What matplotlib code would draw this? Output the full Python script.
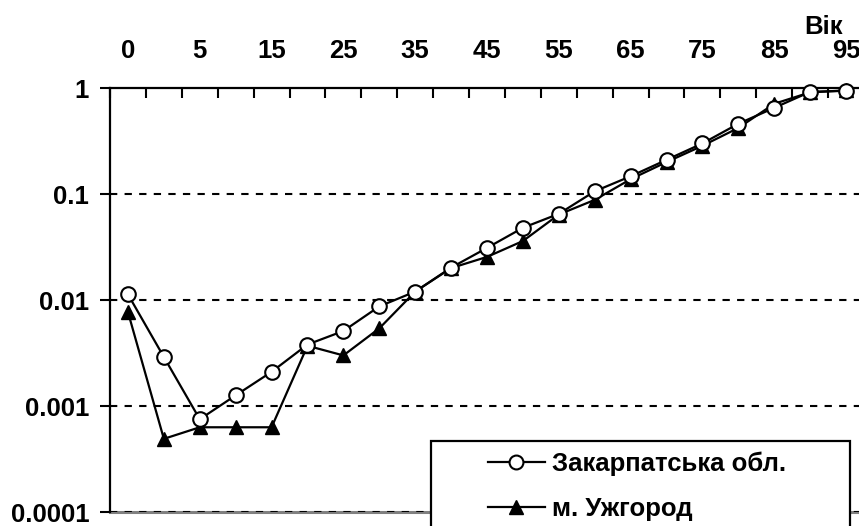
import matplotlib
matplotlib.use("Agg")
import matplotlib.pyplot as plt
from matplotlib.patches import Rectangle
from matplotlib.lines import Line2D
import numpy as np

plt.rcParams['font.family'] = ['Liberation Sans', 'DejaVu Sans']
plt.rcParams['font.weight'] = 'bold'

ages = ['0', '1', '5', '10', '15', '20', '25', '30', '35', '40', '45', '50',
        '55', '60', '65', '70', '75', '80', '85', '90', '95']
zakarpattia = [0.0113, 0.0029, 0.00075, 0.00126, 0.0021, 0.0038, 0.0051, 0.0087,
               0.012, 0.0202, 0.031, 0.048, 0.065, 0.106, 0.147, 0.21, 0.30,
               0.46, 0.65, 0.92, 0.94]
uzhhorod = [0.0077, 0.00049, 0.00063, 0.00063, 0.00063, 0.0037, 0.0030, 0.0054,
            0.012, 0.020, 0.0255, 0.036, 0.064, 0.088, 0.138, 0.20, 0.285,
            0.42, 0.71, 0.91, 0.95]
label_zak = 'Закарпатська обл.'
label_uzh = 'м. Ужгород'
yticks = [1, 0.1, 0.01, 0.001, 0.0001]
ytick_labels = ['1', '0.1', '0.01', '0.001', '0.0001']
axis_title = 'Вік'

FS = 18.5
W, H = 859, 526
fig = plt.figure(figsize=(W / 100, H / 100), dpi=100)
left_px, right_px, top_px, bot_px = 110, 864, 88, 512
ax = fig.add_axes([left_px / W, 1 - bot_px / H, (right_px - left_px) / W, (bot_px - top_px) / H])

x = np.arange(len(ages))
ax.plot(x, zakarpattia, color='black', lw=1.6, marker='o', ms=10.5,
        mfc='white', mec='black', mew=1.5, zorder=4, clip_on=False)
ax.plot(x, uzhhorod, color='black', lw=1.6, marker='^', ms=10,
        mfc='black', mec='black', zorder=3, clip_on=False)

ax.set_yscale('log')
ax.set_ylim(0.0001, 1)
ax.set_xlim(-0.5, len(ages) - 0.5)

ax.set_yticks(yticks)
ax.set_yticklabels(ytick_labels, fontsize=FS, fontweight='bold')
ax.yaxis.set_minor_locator(matplotlib.ticker.NullLocator())
ax.tick_params(axis='y', which='major', direction='out', length=7, width=1.5, pad=8)

ax.xaxis.tick_top()
ax.set_xticks(x[::2])
ax.set_xticklabels(ages[::2], fontsize=FS, fontweight='bold')
ax.set_xticks(np.arange(len(ages) + 1) - 0.5, minor=True)
ax.tick_params(axis='x', which='major', length=0, pad=18)
ax.tick_params(axis='x', which='minor', direction='in', length=7, width=1.5, top=True, bottom=False)

for v in [0.1, 0.01, 0.001, 0.0001]:
    ax.axhline(v, color='black', lw=1.5, ls=(0, (3.5, 3.5)), zorder=1)

for s in ['top', 'left']:
    ax.spines[s].set_linewidth(1.6)
    ax.spines[s].set_color('black')
ax.spines['right'].set_visible(False)
ax.spines['bottom'].set_color('#808080')
ax.spines['bottom'].set_linewidth(2.2)
ax.spines['bottom'].set_zorder(0.5)

fig.text(824 / W, 1 - 27 / H, axis_title, fontsize=FS, fontweight='bold',
         ha='center', va='center')

# legend frame
fig.add_artist(Rectangle((431 / W, 1 - 560 / H), (850 - 431) / W, (560 - 441) / H,
                         transform=fig.transFigure, facecolor='white',
                         edgecolor='black', lw=1.6, zorder=10))
handles = [Line2D([], [], color='black', lw=1.6, marker='o', ms=10, mfc='white', mec='black', mew=1.5),
           Line2D([], [], color='black', lw=1.6, marker='^', ms=10, mfc='black', mec='black')]
leg = fig.legend(handles, [label_zak, label_uzh], loc='upper left',
                 bbox_to_anchor=(488 / W, 1 - 452 / H), frameon=False,
                 borderpad=0, borderaxespad=0, handlelength=2.2, handletextpad=0.3,
                 labelspacing=0.8, prop={'size': FS, 'weight': 'bold'})
leg.set_zorder(11)

fig.savefig('out.png', dpi=100)
